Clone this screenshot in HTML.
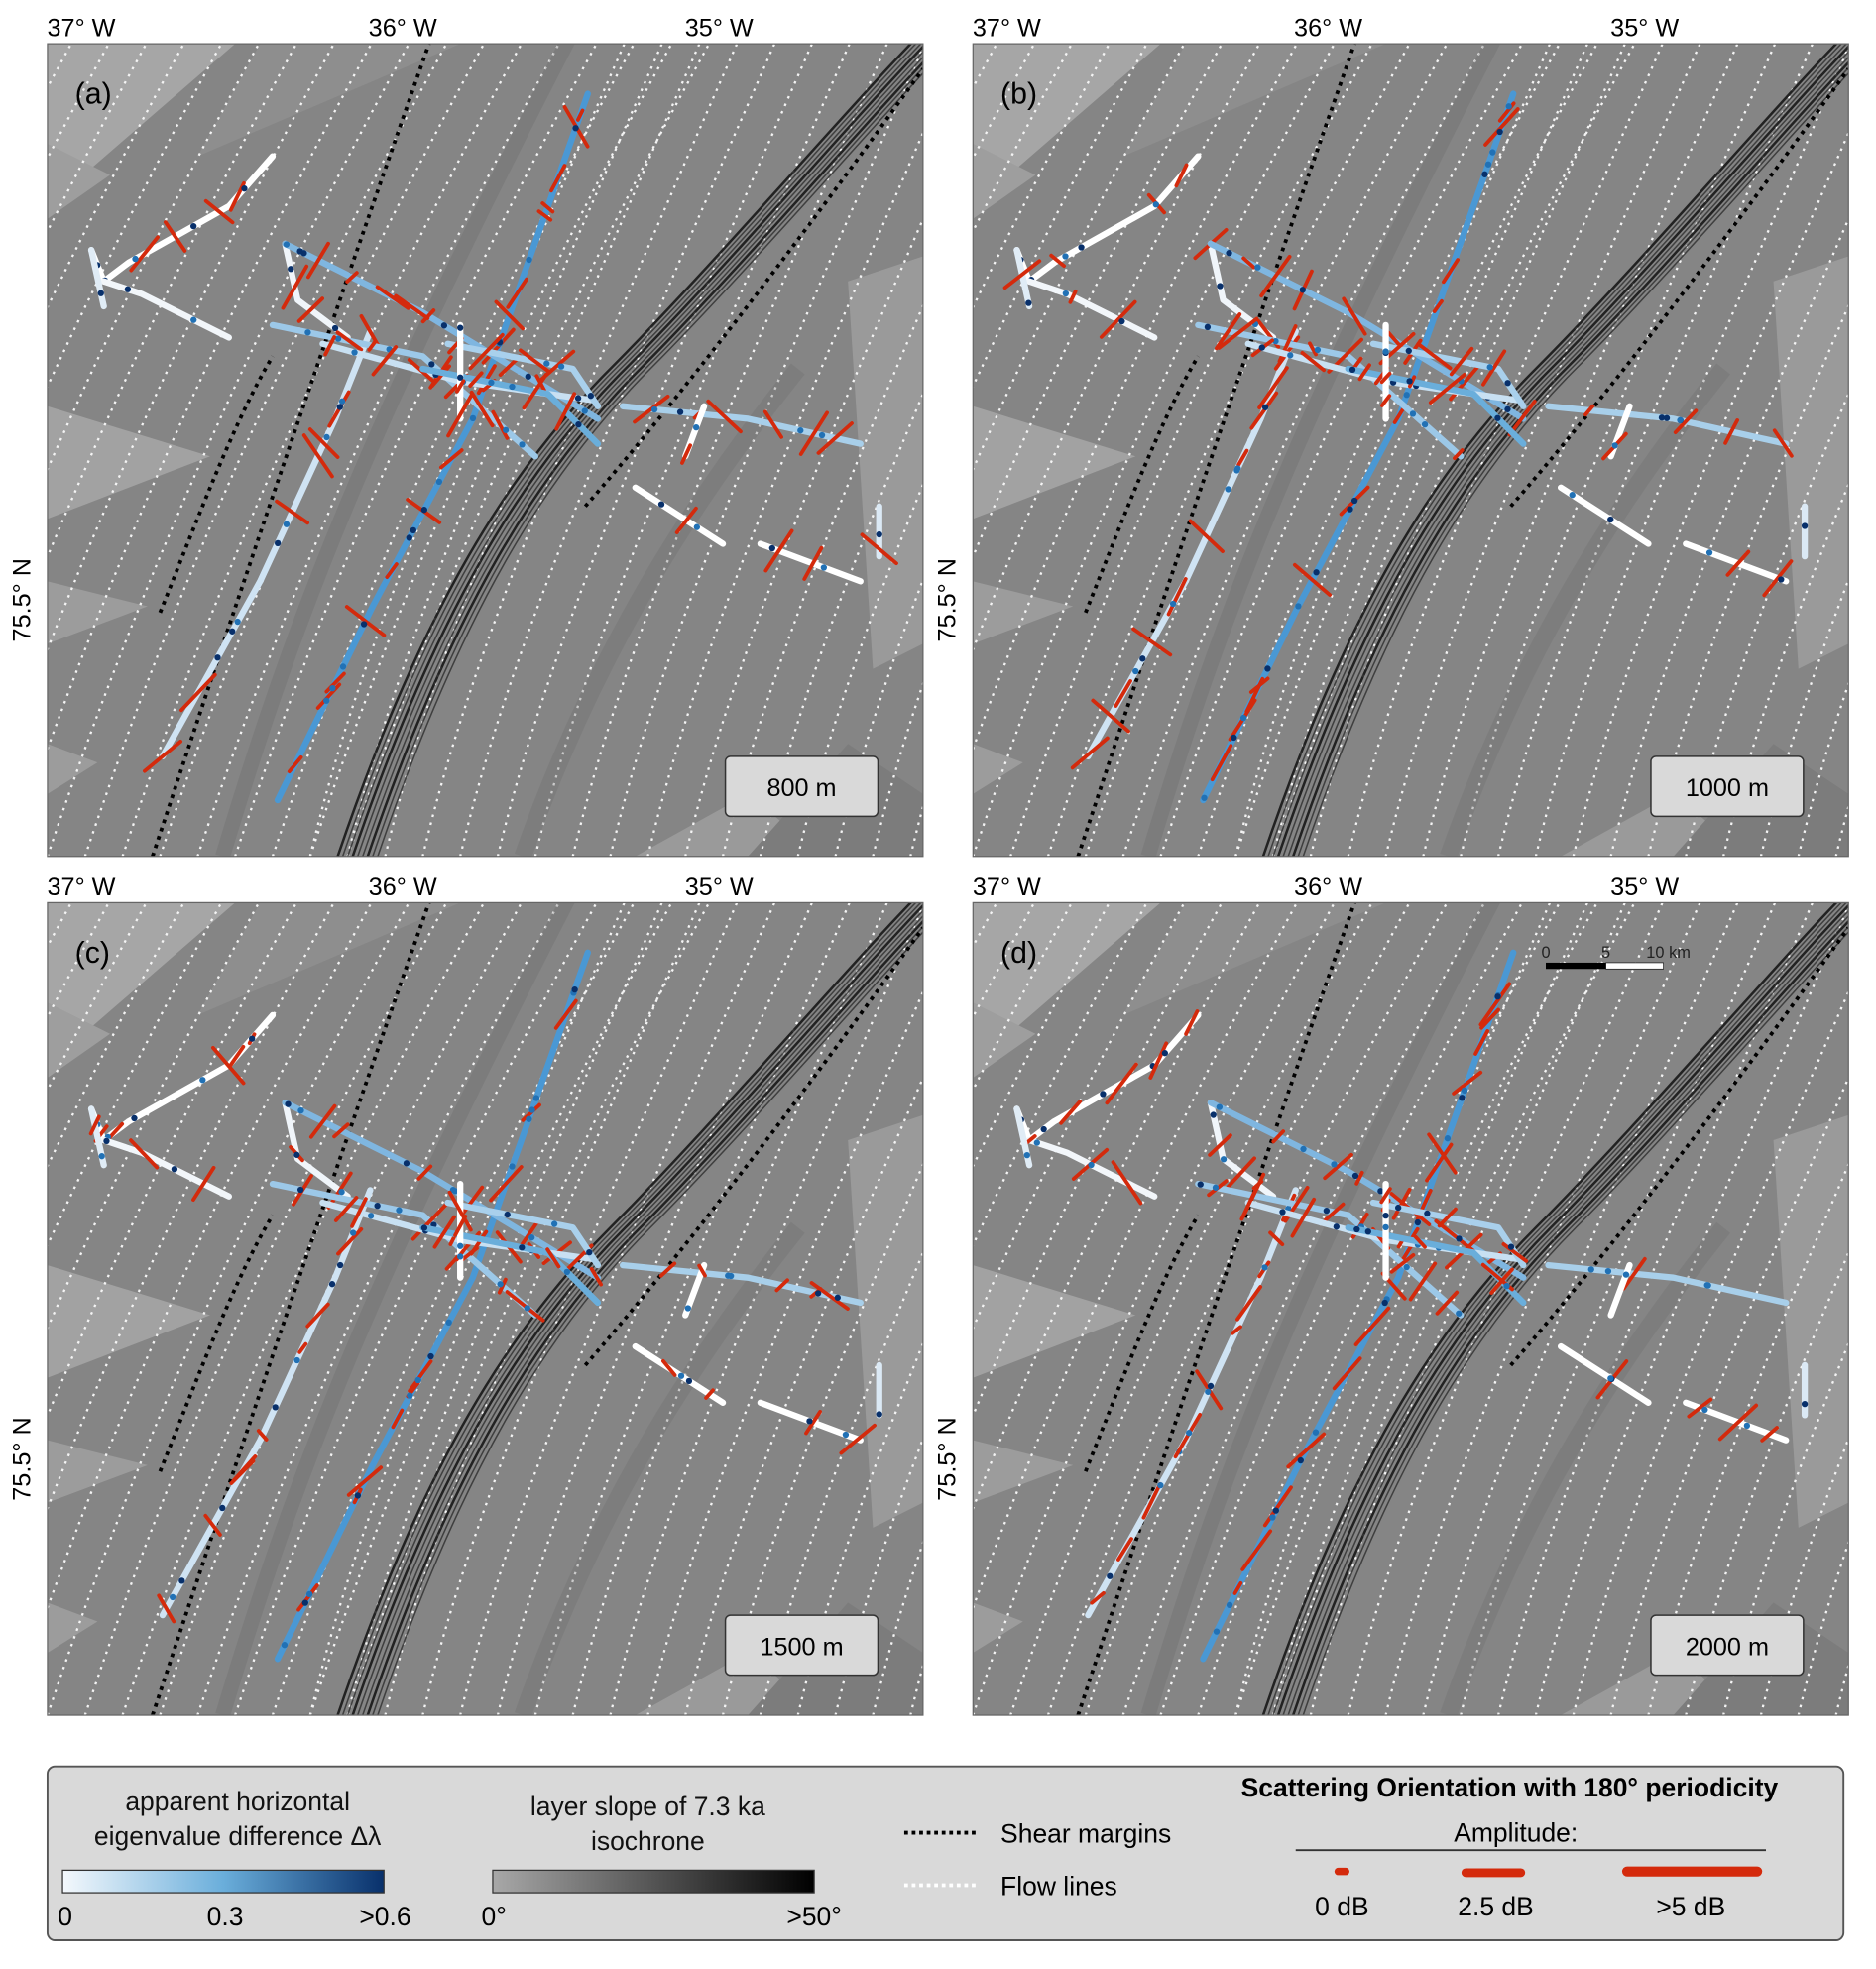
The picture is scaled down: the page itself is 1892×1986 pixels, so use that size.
<!DOCTYPE html>
<html><head><meta charset="utf-8"><style>
html,body{margin:0;padding:0;background:#fff;}
svg{display:block;font-family:"Liberation Sans","DejaVu Sans",sans-serif;}
</style></head><body>
<svg id="s" width="1892" height="1986" viewBox="0 0 1500 1575" preserveAspectRatio="none" xmlns="http://www.w3.org/2000/svg">
<defs>
<linearGradient id="gb" x1="0" x2="1"><stop offset="0" stop-color="#f4f8fc"/><stop offset="0.5" stop-color="#6aaedb"/><stop offset="1" stop-color="#08306b"/></linearGradient>
<linearGradient id="gg" x1="0" x2="1"><stop offset="0" stop-color="#a8a8a8"/><stop offset="1" stop-color="#000"/></linearGradient>
<clipPath id="pc"><rect x="0" y="0" width="700" height="650"/></clipPath>
</defs>
<g id="panels"></g>
<rect x="38" y="1413" width="1436" height="139" rx="6" fill="#d9d9d9" stroke="#555" stroke-width="1.5"/>
<text x="190" y="1448" font-size="21" text-anchor="middle" fill="#111">apparent horizontal</text>
<text x="190" y="1476" font-size="21" text-anchor="middle" fill="#111">eigenvalue difference Δλ</text>
<rect x="50" y="1496" width="257" height="18" fill="url(#gb)" stroke="#333"/>
<text x="52" y="1540" font-size="21" text-anchor="middle">0</text>
<text x="180" y="1540" font-size="21" text-anchor="middle">0.3</text>
<text x="308" y="1540" font-size="21" text-anchor="middle">&gt;0.6</text>
<text x="518" y="1452" font-size="21" text-anchor="middle" fill="#111">layer slope of 7.3 ka</text>
<text x="518" y="1480" font-size="21" text-anchor="middle" fill="#111">isochrone</text>
<rect x="394" y="1496" width="257" height="18" fill="url(#gg)" stroke="#333"/>
<text x="395" y="1540" font-size="21" text-anchor="middle">0°</text>
<text x="651" y="1540" font-size="21" text-anchor="middle">&gt;50°</text>
<line x1="723" y1="1466" x2="783" y2="1466" stroke="#000" stroke-width="3" stroke-dasharray="3,3"/>
<text x="800" y="1474" font-size="21">Shear margins</text>
<line x1="723" y1="1508" x2="783" y2="1508" stroke="#fff" stroke-width="3" stroke-dasharray="3,3"/>
<text x="800" y="1516" font-size="21">Flow lines</text>
<text x="1207" y="1437" font-size="21" font-weight="bold" text-anchor="middle">Scattering Orientation with 180° periodicity</text>
<text x="1212" y="1473" font-size="21" text-anchor="middle">Amplitude:</text>
<line x1="1036" y1="1480" x2="1412" y2="1480" stroke="#333" stroke-width="1.5"/>
<line x1="1070" y1="1497" x2="1076" y2="1497" stroke="#d42a0c" stroke-width="6" stroke-linecap="round"/>
<line x1="1172" y1="1498" x2="1216" y2="1498" stroke="#d42a0c" stroke-width="7" stroke-linecap="round"/>
<line x1="1301" y1="1497" x2="1405" y2="1497" stroke="#d42a0c" stroke-width="8" stroke-linecap="round"/>
<text x="1073" y="1532" font-size="21" text-anchor="middle">0 dB</text>
<text x="1196" y="1532" font-size="21" text-anchor="middle">2.5 dB</text>
<text x="1352" y="1532" font-size="21" text-anchor="middle">&gt;5 dB</text>
</svg>
<script>
const NS="http://www.w3.org/2000/svg";
function el(t,a,p){const e=document.createElementNS(NS,t);for(const k in a)e.setAttribute(k,a[k]);if(p)p.appendChild(e);return e;}
let seed=1;function rnd(){seed=(seed*16807)%2147483647;return seed/2147483647;}
const P=document.getElementById('panels');
const tracks=[
 {pts:[[184,605],[260,450],[340,300],[432,40]],c:"#4a98d4"},
 {pts:[[92,570],[170,430],[230,300],[258,230]],c:"#cfe3f3"},
 {pts:[[190,160],[200,205],[240,235]],c:"#f0f5fa"},
 {pts:[[190,160],[300,215],[440,300]],c:"#7fb6e0"},
 {pts:[[180,225],[300,250],[390,330]],c:"#9cc8e8"},
 {pts:[[220,240],[330,270],[435,285]],c:"#c8e0f2"},
 {pts:[[300,260],[400,280],[440,320]],c:"#6aaedb"},
 {pts:[[320,240],[420,260],[440,290]],c:"#a9d0ec"},
 {pts:[[330,225],[330,300]],c:"#fff"},
 {pts:[[35,165],[45,190],[65,175],[145,130],[180,90]],c:"#fff"},
 {pts:[[45,190],[75,200],[125,225],[145,235]],c:"#f2f6fa"},
 {pts:[[35,165],[45,210]],c:"#e0ecf6"},
 {pts:[[460,290],[560,300],[650,320]],c:"#a8cfea"},
 {pts:[[510,330],[525,290]],c:"#fff"},
 {pts:[[665,370],[665,410]],c:"#dbe9f5"},
 {pts:[[470,355],[540,400]],c:"#fff"},
 {pts:[[570,400],[650,430]],c:"#fff"}
];
function panel(ox,oy,lab,depth,sd){
 seed=sd;
 const g=el('g',{transform:`translate(${ox},${oy})`},P);
 const c=el('g',{'clip-path':'url(#pc)'},g);
 el('rect',{x:0,y:0,width:700,height:650,fill:'#858585'},c);
 el('polygon',{points:'0,0 150,0 0,130',fill:'#a6a6a6'},c);
 el('polygon',{points:'0,140 50,105 0,80',fill:'#9e9e9e'},c);
 el('polygon',{points:'0,290 130,330 0,380',fill:'#a2a2a2'},c);
 el('polygon',{points:'0,430 80,450 0,480',fill:'#9c9c9c'},c);
 el('polygon',{points:'0,560 40,575 0,600',fill:'#9c9c9c'},c);
 el('polygon',{points:'640,190 700,170 700,480 660,500',fill:'#9a9a9a'},c);
 el('polygon',{points:'470,650 560,600 620,650',fill:'#9a9a9a'},c);
 el('polygon',{points:'170,0 330,0 120,90',fill:'#8e8e8e'},c);
 el('polygon',{points:'560,650 640,560 700,600 700,650',fill:'#7c7c7c'},c);
 for(let i=-12;i<26;i++){
  const x0=i*30;
  const d=i<9?`M${x0},650 C${x0+60},470 ${x0+150},250 ${x0+300},-20`:
   `M${x0-60},650 C${x0-20},480 ${x0+60},300 ${x0+200},-20`;
  el('path',{d,fill:'none',stroke:'#f4f4f4','stroke-width':1.8,'stroke-dasharray':'2,4.5'},c);
 }
 for(let k=0;k<9;k++){
  const o=k*4;
  el('path',{d:`M${232+o},650 C${300+o},450 ${370+o},340 ${450+o},260 S${650+o},40 ${700+o},-10`,fill:'none',stroke:k%3==0?'#111':'#333','stroke-width':k%3==0?2:1.2,opacity:0.85},c);
 }
 el('path',{d:'M140,650 C200,450 260,300 420,-10',fill:'none',stroke:'#6e6e6e','stroke-width':12,opacity:.35},c);
 el('path',{d:'M380,650 C440,480 520,360 600,260',fill:'none',stroke:'#6e6e6e','stroke-width':14,opacity:.3},c);
 el('path',{d:'M84,650 C150,450 200,300 305,0',fill:'none',stroke:'#000','stroke-width':3,'stroke-dasharray':'3,4'},c);
 el('path',{d:'M90,455 C120,380 150,300 180,250',fill:'none',stroke:'#000','stroke-width':3,'stroke-dasharray':'3,4'},c);
 el('path',{d:'M430,370 C500,290 600,160 700,20',fill:'none',stroke:'#000','stroke-width':3,'stroke-dasharray':'3,4'},c);
 for(const t of tracks){
  el('polyline',{points:t.pts.map(p=>p.join(',')).join(' '),fill:'none',stroke:t.c,'stroke-width':5,'stroke-linecap':'round','stroke-linejoin':'round'},c);
  for(let i=0;i<t.pts.length-1;i++){
   const [x1,y1]=t.pts[i],[x2,y2]=t.pts[i+1];
   const L=Math.hypot(x2-x1,y2-y1);const n=Math.floor(L/24);
   for(let j=0;j<n;j++){
    if(rnd()<0.4)continue;
    const f=(j+rnd())/Math.max(n,1);const x=x1+(x2-x1)*f,y=y1+(y2-y1)*f;
    const len=4+rnd()*16;const a=(rnd()<0.8?-0.9:-2.3)+(rnd()-0.5)*0.5;
    const dx=Math.cos(a)*len,dy=Math.sin(a)*len;
    el('line',{x1:x-dx,y1:y-dy,x2:x+dx,y2:y+dy,stroke:'#d42a0c','stroke-width':3,'stroke-linecap':'round'},c);
   }
   for(let j=0;j<n/2;j++){const f=rnd();el('circle',{cx:x1+(x2-x1)*f,cy:y1+(y2-y1)*f,r:2.5,fill:rnd()<0.5?'#08306b':'#2171b5'},c);}
  }
 }
 el('rect',{x:0,y:0,width:700,height:650,fill:'none',stroke:'#666','stroke-width':1},g);
 el('rect',{x:542,y:570,width:122,height:48,rx:4,fill:'#d9d9d9',stroke:'#333','stroke-width':1.2},g);
 const tt=el('text',{x:603,y:602,'font-size':20,'text-anchor':'middle'},g);tt.textContent=depth;
 const tl=el('text',{x:22,y:48,'font-size':24},g);tl.textContent=lab;
 [['37° W',27],['36° W',284],['35° W',537]].forEach(([s,x])=>{const t=el('text',{x:x,y:-6,'font-size':20,'text-anchor':'middle'},g);t.textContent=s;});
 const r=el('text',{x:-14,y:445,'font-size':20,'text-anchor':'middle',transform:'rotate(-90 -14 445)'},g);r.textContent='75.5° N';
 return g;
}
panel(38,35,'(a)','800 m',7);
panel(778,35,'(b)','1000 m',19);
panel(38,722,'(c)','1500 m',31);
const d=panel(778,722,'(d)','2000 m',47);
el('rect',{x:458,y:48,width:48,height:5,fill:'#000'},d);
el('rect',{x:506,y:48,width:46,height:5,fill:'#fff',stroke:'#000','stroke-width':.5},d);
[['0',458],['5',506],['10 km',556]].forEach(([s,x])=>{const t=el('text',{x,y:44,'font-size':13,'text-anchor':'middle',fill:'#222'},d);t.textContent=s;});
</script>
</body></html>
